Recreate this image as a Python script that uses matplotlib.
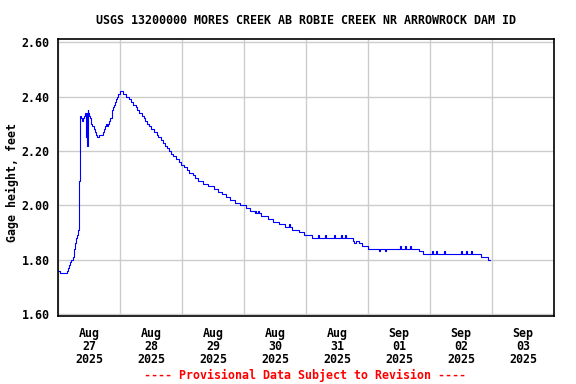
import numpy as np
import pandas as pd
import matplotlib
matplotlib.use('Agg')
import matplotlib.pyplot as plt
import matplotlib.dates as mdates

# gage readings: days since 2025-08-27 00:00 and gage height (ft), step changes
t_days = [0.00, 0.035, 0.14, 0.155, 0.17, 0.19, 0.205, 0.235, 0.25, 0.26, 0.275, 0.295,
          0.31, 0.318, 0.33, 0.342, 0.346, 0.355, 0.362, 0.375, 0.39, 0.40, 0.415, 0.435,
          0.458, 0.465, 0.470, 0.478, 0.483, 0.490, 0.500, 0.515, 0.535, 0.555, 0.575, 0.595,
          0.615, 0.635, 0.650, 0.665, 0.730, 0.745, 0.760, 0.775, 0.790, 0.805, 0.830,
          0.845, 0.865, 0.875, 0.890, 0.905, 0.920, 0.935, 0.950, 0.965, 0.985, 1.005,
          1.05, 1.10, 1.14, 1.17, 1.21, 1.25, 1.28, 1.31, 1.35, 1.38, 1.41, 1.44, 1.47,
          1.50, 1.55, 1.59, 1.62, 1.66, 1.70, 1.73, 1.76, 1.79, 1.82, 1.86, 1.90, 1.95,
          1.99, 2.03, 2.08, 2.12, 2.17, 2.21, 2.26, 2.34, 2.42, 2.52, 2.58, 2.64, 2.71,
          2.78, 2.86, 2.94, 3.03, 3.10, 3.17, 3.185, 3.20, 3.23, 3.245, 3.28, 3.38, 3.47,
          3.56, 3.66, 3.73, 3.745, 3.78, 3.88, 3.96, 4.10, 4.20, 4.215, 4.30, 4.315,
          4.45, 4.465, 4.56, 4.575, 4.63, 4.645, 4.75, 4.77, 4.80, 4.85, 4.90, 5.00,
          5.05, 5.18, 5.195, 5.27, 5.285, 5.52, 5.535, 5.60, 5.615, 5.68, 5.695, 5.83,
          5.88, 5.97, 6.04, 6.055, 6.10, 6.115, 6.22, 6.235, 6.50, 6.515, 6.58, 6.595,
          6.66, 6.675, 6.82, 6.88, 6.94, 6.975]
gage_ft = [1.76, 1.75, 1.76, 1.77, 1.78, 1.79, 1.80, 1.81, 1.82, 1.84, 1.86, 1.88,
           1.89, 1.90, 1.91, 1.92, 2.09, 2.29, 2.33, 2.32, 2.31, 2.32, 2.33, 2.34,
           2.25, 2.34, 2.22, 2.35, 2.30, 2.34, 2.33, 2.32, 2.30, 2.29, 2.28, 2.27,
           2.26, 2.25, 2.25, 2.26, 2.27, 2.28, 2.29, 2.30, 2.29, 2.30, 2.31,
           2.32, 2.33, 2.35, 2.36, 2.37, 2.38, 2.39, 2.40, 2.41, 2.41, 2.42,
           2.41, 2.40, 2.39, 2.38, 2.37, 2.36, 2.35, 2.34, 2.33, 2.32, 2.31, 2.30, 2.29,
           2.28, 2.27, 2.26, 2.25, 2.24, 2.23, 2.22, 2.21, 2.20, 2.19, 2.18, 2.17, 2.16,
           2.15, 2.14, 2.13, 2.12, 2.11, 2.10, 2.09, 2.08, 2.07, 2.06, 2.05, 2.04, 2.03,
           2.02, 2.01, 2.00, 1.99, 1.98, 1.97, 1.98, 1.97, 1.98, 1.97, 1.96, 1.95, 1.94,
           1.93, 1.92, 1.93, 1.92, 1.91, 1.90, 1.89, 1.88, 1.89, 1.88, 1.89, 1.88,
           1.89, 1.88, 1.89, 1.88, 1.89, 1.88, 1.87, 1.86, 1.87, 1.86, 1.85, 1.84,
           1.84, 1.83, 1.84, 1.83, 1.84, 1.85, 1.84, 1.85, 1.84, 1.85, 1.84, 1.83,
           1.82, 1.82, 1.83, 1.82, 1.83, 1.82, 1.83, 1.82, 1.83, 1.82, 1.83, 1.82,
           1.83, 1.82, 1.81, 1.81, 1.80, 1.80]

title = 'USGS 13200000 MORES CREEK AB ROBIE CREEK NR ARROWROCK DAM ID'
ylabel = 'Gage height, feet'
footer = '---- Provisional Data Subject to Revision ----'
y_ticks = [1.60, 1.80, 2.00, 2.20, 2.40, 2.60]

start = pd.Timestamp('2025-08-27')
times = start + pd.to_timedelta(t_days, unit='D')

plt.rcParams['font.family'] = 'DejaVu Sans Mono'
plt.rcParams['font.weight'] = 'bold'
plt.rcParams['font.size'] = 8.4

fig = plt.figure(figsize=(5.76, 3.84), dpi=100)
ax = fig.add_axes([58/576, 1-316/384, 496/576, 277/384])

ax.plot(times, gage_ft, drawstyle='steps-post', color='#0000ff', lw=0.8)

ax.set_xlim(start, start + pd.Timedelta(days=8))
ax.set_ylim(1.5926, 2.612)
ax.set_yticks(y_ticks)
ax.set_yticklabels(['%.2f' % v for v in y_ticks])

ax.xaxis.set_major_locator(mdates.DayLocator())
ax.xaxis.set_major_formatter(plt.NullFormatter())
ax.xaxis.set_minor_locator(mdates.HourLocator(byhour=[12]))
ax.xaxis.set_minor_formatter(mdates.DateFormatter('%b\n%d\n%Y'))
ax.tick_params(axis='x', which='both', length=0, pad=8)
ax.tick_params(axis='y', length=0, pad=6)
for lbl in ax.xaxis.get_minorticklabels():
    lbl.set_linespacing(1.0)

ax.grid(True, which='major', color='#cccccc', lw=1)
ax.set_axisbelow(True)
for s in ax.spines.values():
    s.set_linewidth(1.2)

fig.text(306/576, 1-20/384, title, ha='center', va='center')
fig.text(12/576, 1-183/384, ylabel, ha='center', va='center', rotation=90)
fig.text(305/576, 1-375/384, footer, ha='center', va='center', color='#ff0000')

fig.savefig('out.png', dpi=100)
